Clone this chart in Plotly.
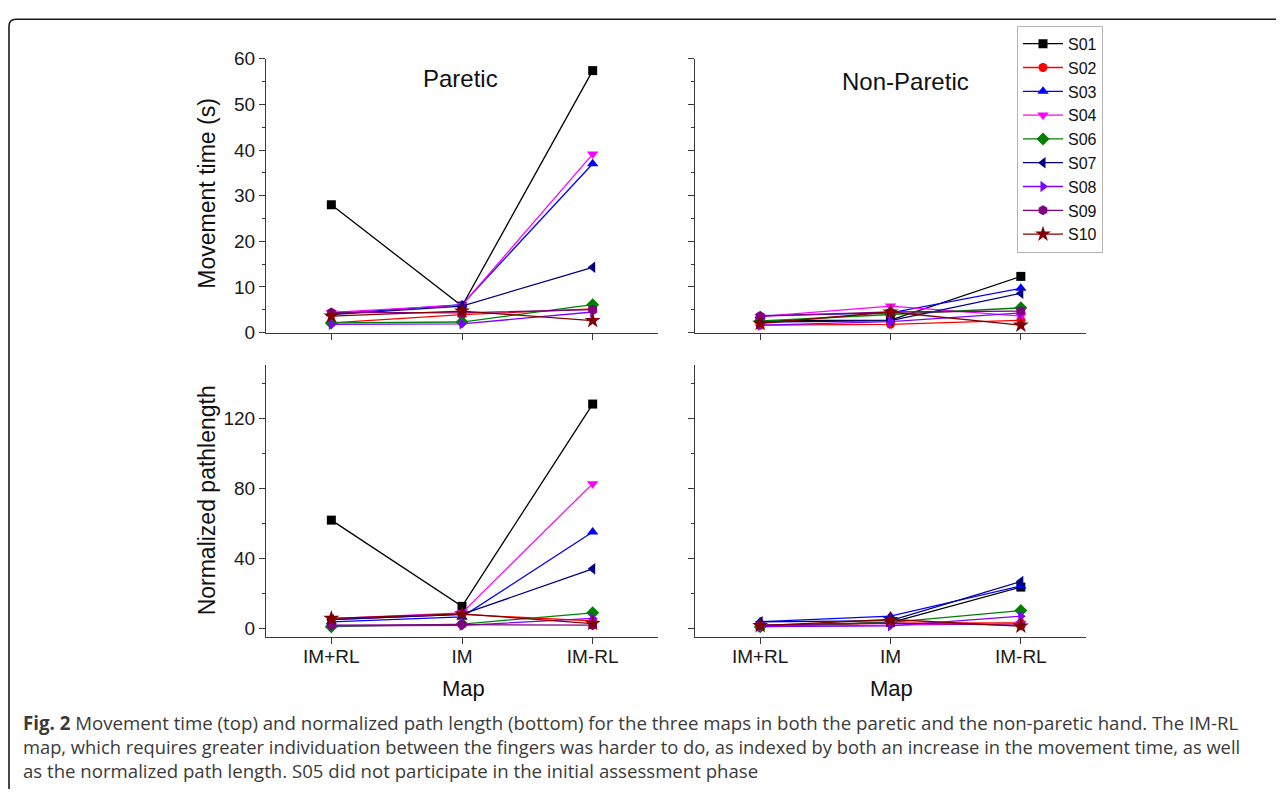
import plotly.graph_objects as go

# ---------------- data ----------------
maps = ["IM+RL", "IM", "IM-RL"]
subjects = ["S01", "S02", "S03", "S04", "S06", "S07", "S08", "S09", "S10"]

mt_paretic = {
    "S01": [28.0, 5.8, 57.4],
    "S02": [2.1, 3.9, 5.2],
    "S03": [4.1, 6.1, 37.0],
    "S04": [4.4, 6.0, 39.1],
    "S06": [2.1, 2.3, 6.1],
    "S07": [3.9, 5.8, 14.3],
    "S08": [1.8, 1.9, 4.5],
    "S09": [4.4, 4.3, 5.0],
    "S10": [3.6, 4.7, 2.6],
}
mt_nonparetic = {
    "S01": [2.6, 2.7, 12.3],
    "S02": [1.6, 1.8, 2.7],
    "S03": [3.7, 4.3, 9.7],
    "S04": [3.5, 5.8, 3.6],
    "S06": [2.5, 4.0, 5.4],
    "S07": [2.3, 2.6, 8.6],
    "S08": [1.6, 2.4, 4.3],
    "S09": [3.6, 4.5, 4.7],
    "S10": [2.0, 4.5, 1.6],
}
pl_paretic = {
    "S01": [61.8, 12.6, 128.0],
    "S02": [5.0, 8.0, 4.3],
    "S03": [3.8, 6.6, 55.0],
    "S04": [5.6, 8.9, 82.6],
    "S06": [1.0, 2.5, 8.9],
    "S07": [5.0, 8.0, 34.0],
    "S08": [1.5, 1.8, 5.7],
    "S09": [1.9, 2.2, 1.9],
    "S10": [5.7, 8.3, 2.8],
}
pl_nonparetic = {
    "S01": [1.6, 3.4, 23.6],
    "S02": [1.5, 3.0, 3.2],
    "S03": [3.9, 7.0, 24.2],
    "S04": [1.0, 2.0, 2.8],
    "S06": [1.0, 3.5, 10.2],
    "S07": [3.8, 4.5, 26.8],
    "S08": [1.0, 1.5, 7.0],
    "S09": [2.0, 3.0, 1.9],
    "S10": [1.6, 5.1, 1.3],
}

colors = {
    "S01": "#000000", "S02": "#FF0000", "S03": "#0000FF", "S04": "#FF00FF",
    "S06": "#008000", "S07": "#000080", "S08": "#8000FF", "S09": "#800080",
    "S10": "#800000",
}
symbols = {
    "S01": "square", "S02": "circle", "S03": "triangle-up", "S04": "triangle-down",
    "S06": "diamond", "S07": "triangle-left", "S08": "triangle-right",
    "S09": "hexagon", "S10": "star",
}
msizes = {
    "S01": 9, "S02": 9, "S03": 10, "S04": 10, "S06": 10, "S07": 10, "S08": 10,
    "S09": 10, "S10": 12,
}

# ---------------- geometry helpers (reference pixel -> paper) ----------------
OFFX = 8
W, H = 1268, 781
AY, BY = 17.2, 0.974   # observed vertical placement of the figure in the page


def X(px):
    return (px - OFFX) / W


def Y(py):
    return 1 - ((py - AY) / BY) / H


FONT = "Liberation Sans, Arial, sans-serif"
AXC = "#3a3a3a"

fig = go.Figure()

panels = [
    (mt_paretic, "x", "y", True),
    (mt_nonparetic, "x2", "y2", False),
    (pl_paretic, "x3", "y3", False),
    (pl_nonparetic, "x4", "y4", False),
]
for data, xa, ya, show in panels:
    for s in subjects:
        fig.add_trace(go.Scatter(
            x=maps, y=data[s], name=s, mode="lines+markers",
            xaxis=xa, yaxis=ya, showlegend=show, legendgroup=s,
            line=dict(color=colors[s], width=1.3),
            marker=dict(symbol=symbols[s], size=msizes[s], color=colors[s]),
            cliponaxis=False,
        ))

common_x = dict(
    type="category", range=[-0.5, 2.5], showline=True, linecolor=AXC, linewidth=1,
    ticks="outside", ticklen=6, tickcolor=AXC, showgrid=False, zeroline=False,
    tickfont=dict(family=FONT, size=19, color="#1a1a1a"),
)
common_y = dict(
    showline=True, linecolor=AXC, linewidth=1, ticks="outside", ticklen=6,
    tickcolor=AXC, showgrid=False, zeroline=False,
    tickfont=dict(family=FONT, size=19, color="#1a1a1a"),
)

L1, R1 = X(266), X(658)
L2, R2 = X(695), X(1086)
top_dom = [Y(332), Y(58)]
bot_dom = [Y(637), Y(365)]

fig.update_layout(
    xaxis=dict(common_x, domain=[L1, R1], anchor="y", showticklabels=False),
    xaxis2=dict(common_x, domain=[L2, R2], anchor="y2", showticklabels=False),
    xaxis3=dict(common_x, domain=[L1, R1], anchor="y3", ticklabelstandoff=-4),
    xaxis4=dict(common_x, domain=[L2, R2], anchor="y4", ticklabelstandoff=-4),
    yaxis=dict(common_y, domain=top_dom, anchor="x", range=[0, 60], dtick=10,
               minor=dict(dtick=5, ticks="outside", ticklen=3, tickcolor=AXC)),
    yaxis2=dict(common_y, domain=top_dom, anchor="x2", range=[0, 60], dtick=10,
                showticklabels=False,
                minor=dict(dtick=5, ticks="outside", ticklen=3, tickcolor=AXC)),
    yaxis3=dict(common_y, domain=bot_dom, anchor="x3", range=[-5, 150],
                tickvals=[0, 40, 80, 120],
                minor=dict(tickvals=[20, 60, 100, 140], ticks="outside", ticklen=3,
                           tickcolor=AXC)),
    yaxis4=dict(common_y, domain=bot_dom, anchor="x4", range=[-5, 150],
                tickvals=[0, 40, 80, 120], showticklabels=False,
                minor=dict(tickvals=[20, 60, 100, 140], ticks="outside", ticklen=3,
                           tickcolor=AXC)),
)

annotations = [
    dict(text="Paretic", x=X(460), y=Y(78), font=dict(family=FONT, size=24, color="#111")),
    dict(text="Non-Paretic", x=X(905), y=Y(81), font=dict(family=FONT, size=24, color="#111")),
    dict(text="Movement time (s)", x=X(207), y=Y(193), textangle=-90,
         font=dict(family=FONT, size=23, color="#111")),
    dict(text="Normalized pathlength", x=X(207), y=Y(500), textangle=-90,
         font=dict(family=FONT, size=23, color="#111")),
    dict(text="Map", x=X(463), y=Y(688), font=dict(family=FONT, size=22, color="#111")),
    dict(text="Map", x=X(891), y=Y(688), font=dict(family=FONT, size=22, color="#111")),
]
for a in annotations:
    a.update(xref="paper", yref="paper", showarrow=False, xanchor="center", yanchor="middle")

caption = [
    "<b>Fig. 2</b> Movement time (top) and normalized path length (bottom) for the three maps in both the paretic and the non-paretic hand. The IM-RL",
    "map, which requires greater individuation between the fingers was harder to do, as indexed by both an increase in the movement time, as well",
    "as the normalized path length. S05 did not participate in the initial assessment phase",
]
cap_sizes = [18.66, 18.33, 18.62]
for i, line in enumerate(caption):
    annotations.append(dict(
        text=line, x=X(22), y=Y(722 + 24 * i), xref="paper", yref="paper",
        showarrow=False, xanchor="left", yanchor="middle", borderpad=0,
        font=dict(family="Open Sans, Noto Sans, sans-serif", size=cap_sizes[i],
                  color="#3a3a3a"),
    ))

# rounded frame (top + left edges visible)
ftop = 18.5
fx0, fy0, r = X(9), Y(ftop), 7
frame = (f"M {X(1300)},{fy0} L {X(9 + r)},{fy0} Q {fx0},{fy0} {fx0},{Y(ftop + r)} "
         f"L {fx0},{Y(830)}")

fig.update_layout(
    annotations=annotations,
    shapes=[dict(type="path", path=frame, xref="paper", yref="paper",
                 line=dict(color="#1a1a1a", width=1.6))],
    width=W, height=H, autosize=False,
    margin=dict(l=0, r=0, t=0, b=0),
    paper_bgcolor="white", plot_bgcolor="white",
    legend=dict(
        x=X(1017), y=Y(25), xanchor="left", yanchor="top",
        bordercolor="#b4b4b4", borderwidth=1, bgcolor="white",
        font=dict(family=FONT, size=16, color="#111"),
        itemwidth=40, tracegroupgap=0,
    ),
)

fig.write_html("out.html")
